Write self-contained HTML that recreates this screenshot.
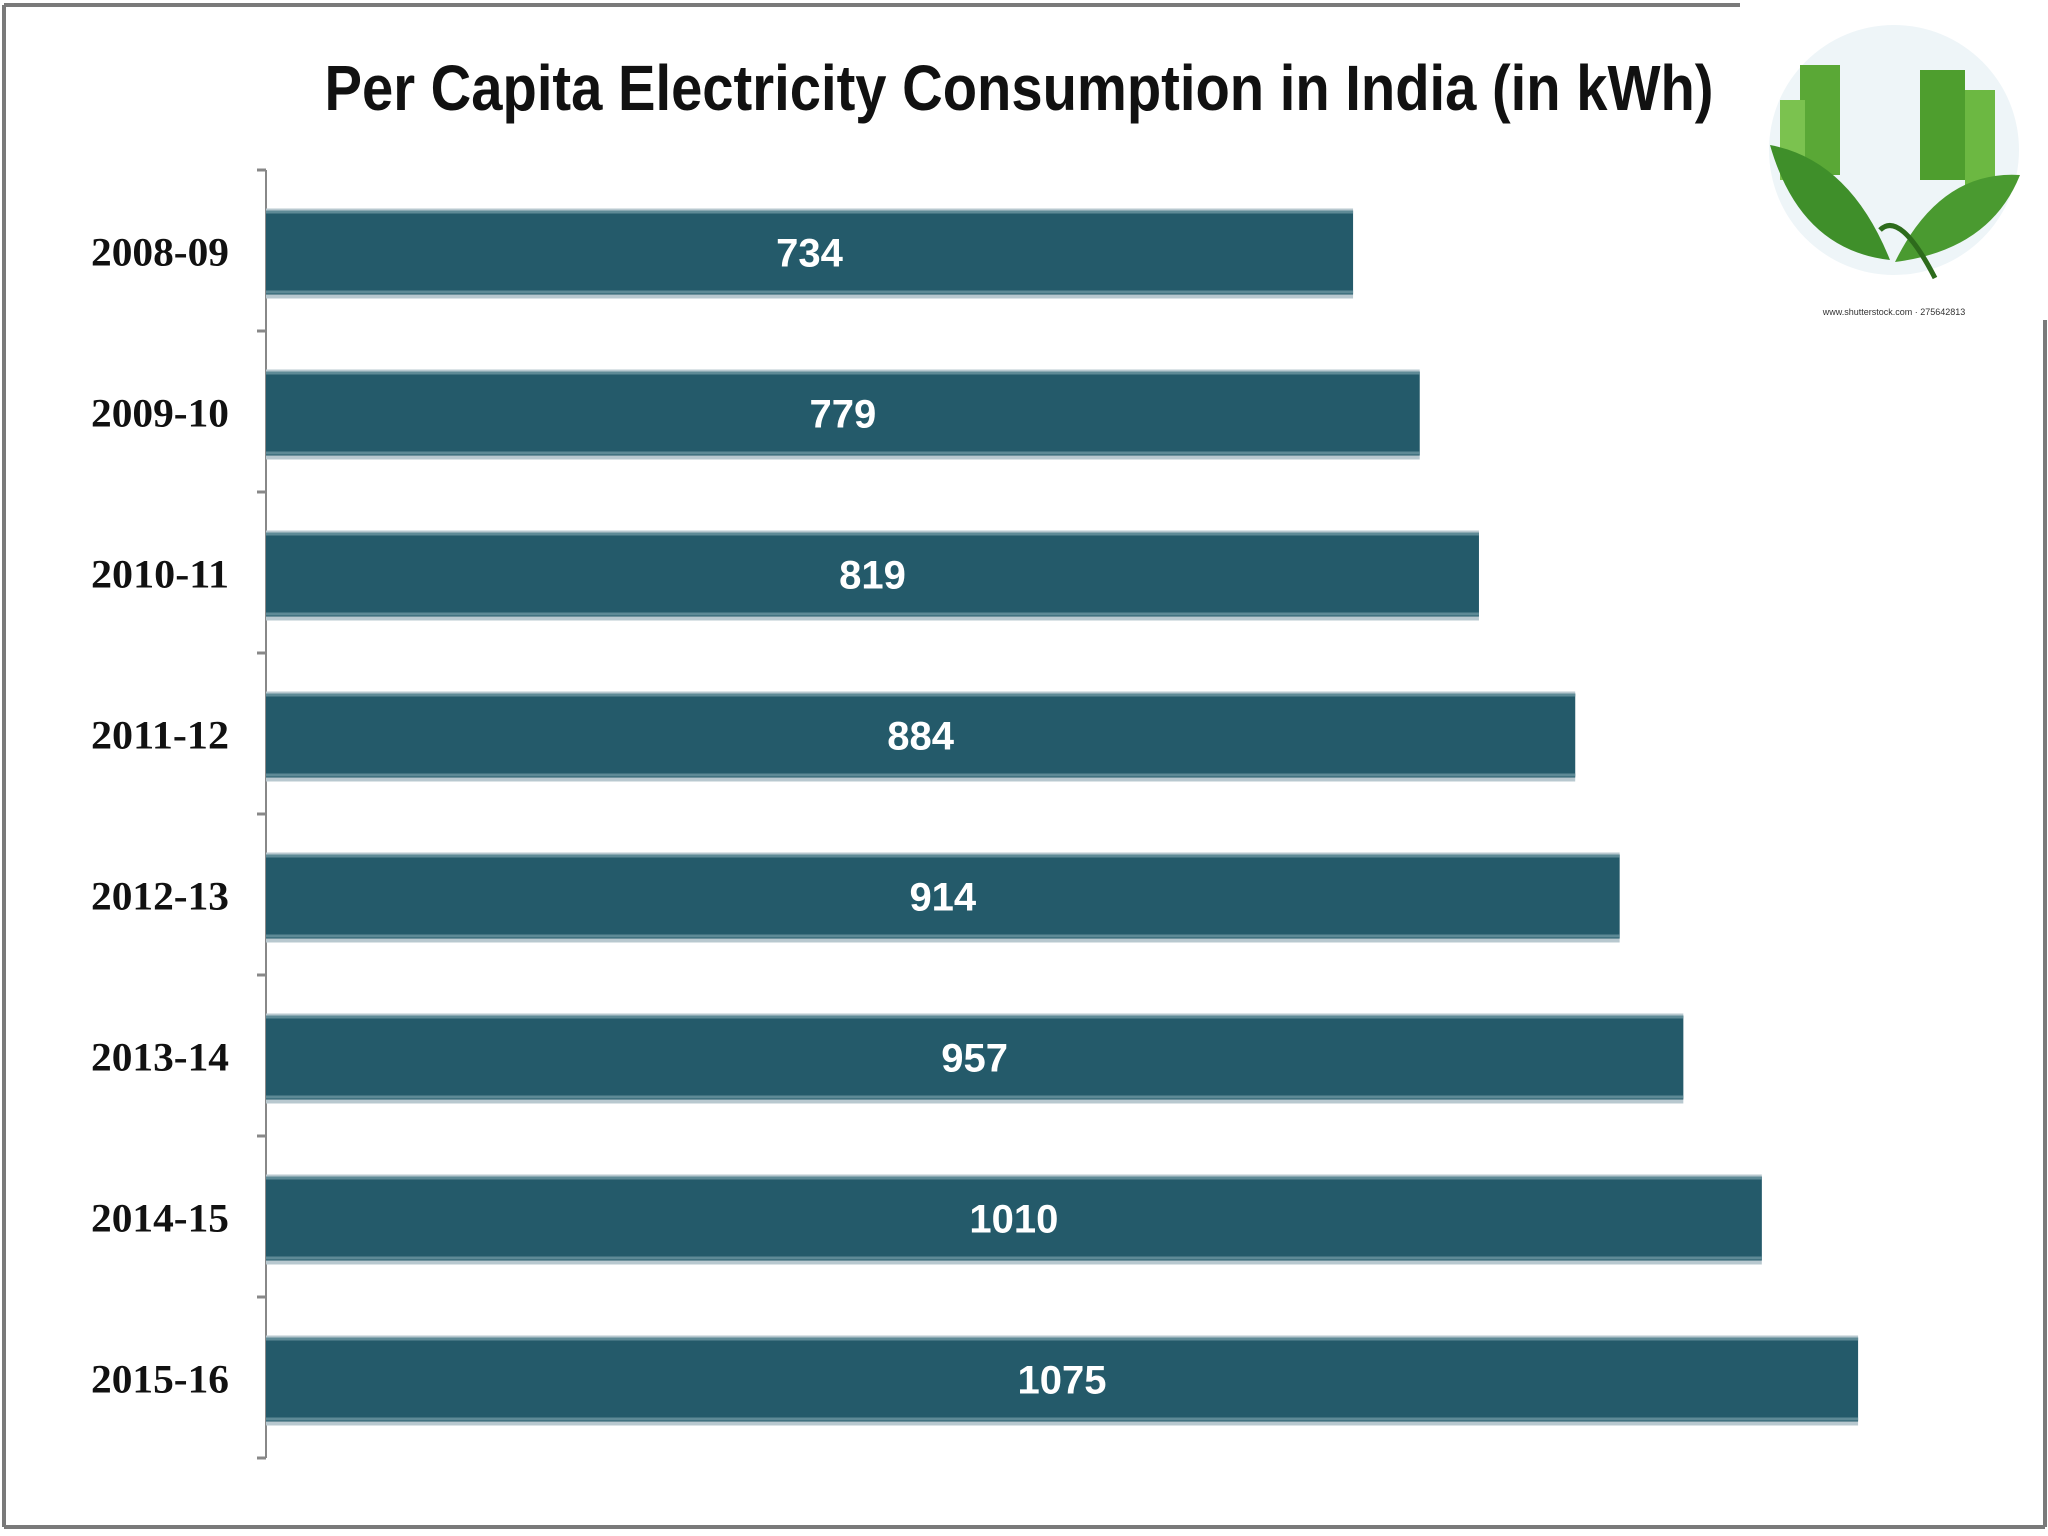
<!DOCTYPE html>
<html><head><meta charset="utf-8"><style>
html,body{margin:0;padding:0;background:#fff;}
svg{display:block;}
</style></head><body>
<svg id="chart" width="2048" height="1536" viewBox="0 0 2048 1536" xmlns="http://www.w3.org/2000/svg">
  <rect x="0" y="0" width="2048" height="1536" fill="#fff"/>
  <g stroke="#7a7a7a" stroke-width="4" fill="none">
    <line x1="4" y1="5" x2="1740" y2="5"/>
    <line x1="4" y1="5" x2="4" y2="1527"/>
    <line x1="4" y1="1527" x2="2045" y2="1527"/>
    <line x1="2045" y1="320" x2="2045" y2="1527"/>
  </g>
  <text x="1019" y="110" text-anchor="middle" font-family="Liberation Sans Narrow, Liberation Sans, sans-serif" font-weight="bold" font-size="64" textLength="1389" lengthAdjust="spacingAndGlyphs" fill="#111">Per Capita Electricity Consumption in India (in kWh)</text>
  <g>
    <circle cx="1894" cy="150" r="125" fill="#eef5f8"/>
    <rect x="1800" y="65" width="40" height="110" fill="#5aa836"/>
    <rect x="1920" y="70" width="45" height="110" fill="#4e9e2e"/>
    <rect x="1965" y="90" width="30" height="95" fill="#6cb842"/>
    <rect x="1780" y="100" width="25" height="80" fill="#7bc24f"/>
    <path d="M1770 145 Q1850 160 1890 260 Q1800 250 1770 145Z" fill="#3f8f2a"/>
    <path d="M2020 175 Q1940 170 1895 262 Q1990 250 2020 175Z" fill="#4a9a30"/>
    <path d="M1880 230 Q1900 210 1935 278" stroke="#2d6b1c" stroke-width="5" fill="none"/>
    <text x="1894" y="315" text-anchor="middle" font-family="Liberation Sans, sans-serif" font-size="9" fill="#333">www.shutterstock.com · 275642813</text>
  </g>
  <g id="axis"></g>
  <g id="bars"></g>
</svg>
<script>
const categories = ["2008-09","2009-10","2010-11","2011-12","2012-13","2013-14","2014-15","2015-16"];
const values = [734, 779, 819, 884, 914, 957, 1010, 1075];
const valueLabels = ["734","779","819","884","914","957","1010","1075"];

const NS = "http://www.w3.org/2000/svg";
const x0 = 266, pxPerUnit = 1.481;
const yTop = 170, band = 161;
function xScale(v){ return x0 + v * pxPerUnit; }
function yBand(i){ return yTop + i * band; }
function mk(tag, attrs, parent){
  const e = document.createElementNS(NS, tag);
  for (const k in attrs) e.setAttribute(k, attrs[k]);
  parent.appendChild(e);
  return e;
}
const axis = document.getElementById('axis');
const bars = document.getElementById('bars');
const axLine = mk('line', {x1:x0, y1:yTop, x2:x0, y2:yBand(categories.length), stroke:'#888', 'stroke-width':2}, axis);


for (let i = 0; i <= categories.length; i++) {
  const t = mk('line', {x1:x0-9, y1:yBand(i), x2:x0, y2:yBand(i), stroke:'#888', 'stroke-width':3}, axis);
  
  
}
categories.forEach((c, i) => {
  const cy = yBand(i) + band / 2 + 2;
  const top = cy - 42, h = 84;
  const lab = mk('text', {x:91, y:cy + 13, 'font-family':'Liberation Serif, serif', 'font-weight':'bold', 'font-size':40, textLength:138, lengthAdjust:'spacingAndGlyphs', fill:'#111'}, axis);
  lab.textContent = c;
  
  
  const w = xScale(values[i]) - x0;
  const g = mk('g', {}, bars);
  
  
  mk('rect', {x:x0, y:top - 2, width:w, height:h + 6, fill:'#b8c8cf'}, g);
  mk('rect', {x:x0, y:top, width:w, height:h, fill:'#245a6a'}, g);
  mk('rect', {x:x0, y:top, width:w, height:3, fill:'#5e8a96'}, g);
  mk('rect', {x:x0, y:top + h - 4, width:w, height:3, fill:'#5e8a96'}, g);
  const vl = mk('text', {x:x0 + w / 2, y:cy + 14, 'text-anchor':'middle', 'font-family':'Liberation Sans, sans-serif', 'font-weight':'bold', 'font-size':40, fill:'#fff'}, g);
  vl.textContent = valueLabels[i];
  
  
});
</script>
</body></html>
